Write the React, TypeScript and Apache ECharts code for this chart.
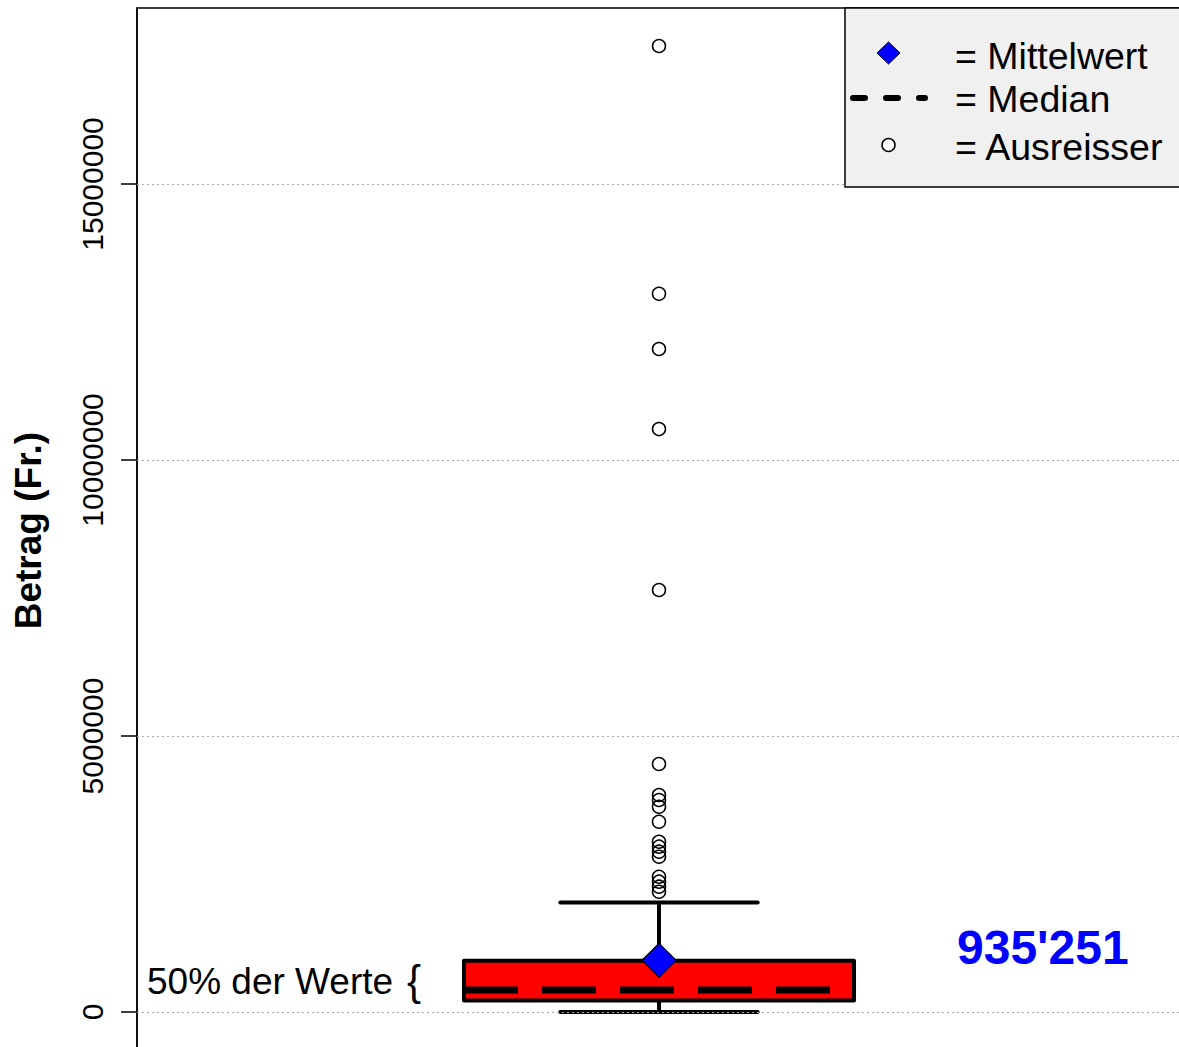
import React, { useEffect, useRef } from "react";
import * as echarts from "echarts";

// ---- data ----
const yTicks = [0, 5000000, 10000000, 15000000];
// [lower whisker, Q1, median, Q3, upper whisker]
const boxStats = [0, 208000, 400000, 930000, 1985000];
const meanValue = 935251;
const outliers = [
  17500000, 13010000, 12010000, 10560000, 7645000, 4493000, 3931000, 3841000,
  3719000, 3447000, 3085000, 2995000, 2904000, 2813000, 2451000, 2361000,
  2270000, 2179000,
];
const legendLabels = ["= Mittelwert", "= Median", "= Ausreisser"];
const meanLabel = "935'251";
const halfLabel = "50% der Werte";
const yTitle = "Betrag (Fr.)";

const FONT = "Liberation Sans, Arial, sans-serif";

export default function App() {
  const ref = useRef<HTMLDivElement>(null);

  useEffect(() => {
    if (!ref.current) return;
    const chart = echarts.init(ref.current, undefined, { renderer: "svg" });

    const boxHalf = 0.1868;
    const capHalf = 0.0945;

    const option: any = {
      animation: false,
      backgroundColor: "#ffffff",
      grid: {
        left: 137,
        top: 8,
        width: 1044,
        height: 1059.2,
        outerBoundsMode: "none",
        containLabel: false,
        show: true,
        borderColor: "#000",
        borderWidth: 1.5,
        backgroundColor: "transparent",
      },
      xAxis: {
        type: "value",
        min: 0.5,
        max: 1.5,
        show: false,
      },
      yAxis: {
        type: "value",
        min: -1000000,
        max: 18188000,
        name: yTitle,
        nameLocation: "middle",
        nameGap: 90,
        nameTextStyle: {
          fontFamily: FONT,
          fontSize: 37,
          fontWeight: "bold",
          color: "#000",
          padding: [0, 0, 0, 14],
        },
        axisLine: { show: true, lineStyle: { color: "#000", width: 1.5 } },
        axisTick: {
          show: true,
          length: 16,
          customValues: yTicks,
          lineStyle: { color: "#000", width: 1.5 },
        },
        axisLabel: {
          show: true,
          rotate: 90,
          margin: 30,
          customValues: yTicks,
          fontFamily: FONT,
          fontSize: 30,
          color: "#000",
          formatter: (v: number) => String(v),
        },
        splitLine: { show: false },
      },
      series: [
        {
          type: "custom",
          z: 2,
          data: [[1, ...boxStats]],
          renderItem: (params: any, api: any) => {
            const x = api.value(0);
            const lo = api.value(1);
            const q1 = api.value(2);
            const med = api.value(3);
            const q3 = api.value(4);
            const hi = api.value(5);
            const pLoC = api.coord([x, lo]);
            const pQ1C = api.coord([x, q1]);
            const pQ3C = api.coord([x, q3]);
            const pHiC = api.coord([x, hi]);
            const boxL = api.coord([x - boxHalf, q3]);
            const boxR = api.coord([x + boxHalf, q1]);
            const medL = api.coord([x - boxHalf, med]);
            const medR = api.coord([x + boxHalf, med]);
            const capL = api.coord([x - capHalf, hi])[0];
            const capR = api.coord([x + capHalf, hi])[0];
            const stroke = { stroke: "#000", lineWidth: 4 };
            return {
              type: "group",
              children: [
                {
                  type: "line",
                  shape: { x1: pQ3C[0], y1: pQ3C[1], x2: pHiC[0], y2: pHiC[1] },
                  style: { ...stroke },
                },
                {
                  type: "line",
                  shape: { x1: pQ1C[0], y1: pQ1C[1], x2: pLoC[0], y2: pLoC[1] },
                  style: { ...stroke },
                },
                {
                  type: "line",
                  shape: { x1: capL, y1: pHiC[1], x2: capR, y2: pHiC[1] },
                  style: { ...stroke, lineCap: "round" },
                },
                {
                  type: "line",
                  shape: { x1: capL, y1: pLoC[1], x2: capR, y2: pLoC[1] },
                  style: { ...stroke, lineCap: "round" },
                },
                {
                  type: "rect",
                  shape: {
                    x: boxL[0],
                    y: boxL[1],
                    width: boxR[0] - boxL[0],
                    height: boxR[1] - boxL[1],
                  },
                  style: { fill: "#ff0000", stroke: "#000", lineWidth: 4, lineJoin: "round" },
                },
                {
                  type: "line",
                  shape: { x1: medL[0], y1: medL[1], x2: medR[0], y2: medR[1] },
                  style: { stroke: "#000", lineWidth: 7, lineDash: [54, 24], lineCap: "butt" },
                },
              ],
            };
          },
        },
        {
          type: "line",
          z: 5,
          data: [],
          markLine: {
            silent: true,
            symbol: ["none", "none"],
            label: { show: false },
            lineStyle: { color: "#aaaaaa", type: [2, 3], width: 1 },
            data: yTicks.map((v) => ({ yAxis: v })),
          },
        },
        {
          type: "scatter",
          z: 6,
          symbol: "circle",
          symbolSize: 13,
          itemStyle: { color: "transparent", borderColor: "#000", borderWidth: 1.5, opacity: 1 },
          data: outliers.map((v) => [1, v]),
        },
        {
          type: "scatter",
          z: 7,
          symbol: "diamond",
          symbolSize: [34, 34],
          itemStyle: { color: "#0000ff", borderColor: "#000", borderWidth: 1.2, opacity: 1 },
          data: [[1, meanValue]],
        },
      ],
      graphic: [
        {
          type: "rect",
          z: 100,
          shape: { x: 845, y: 8, width: 340, height: 179 },
          style: { fill: "#f0f0f0", stroke: "#000", lineWidth: 1.5 },
        },
        {
          type: "polygon",
          z: 101,
          shape: { points: [[888.5, 42], [900, 53], [888.5, 64], [877, 53]] },
          style: { fill: "#0000ff", stroke: "#000", lineWidth: 1 },
        },
        {
          type: "line",
          z: 101,
          shape: { x1: 853, y1: 98, x2: 925, y2: 98 },
          style: { stroke: "#000", lineWidth: 6, lineDash: [12, 21], lineCap: "round" },
        },
        {
          type: "circle",
          z: 101,
          shape: { cx: 888.5, cy: 145, r: 6.5 },
          style: { fill: "#ffffff", stroke: "#000", lineWidth: 1.5 },
        },
        ...legendLabels.map((t, i) => ({
          type: "text",
          z: 101,
          x: 955,
          y: [55.5, 99, 147][i],
          style: {
            text: t,
            fontFamily: FONT,
            fontSize: 37.5,
            fill: "#000",
            align: "left",
            verticalAlign: "middle",
          },
        })),
        {
          type: "text",
          z: 101,
          x: 147,
          y: 981.5,
          style: {
            text: halfLabel,
            fontFamily: FONT,
            fontSize: 37,
            fill: "#000",
            align: "left",
            verticalAlign: "middle",
          },
        },
        {
          type: "text",
          z: 101,
          x: 407,
          y: 980,
          style: {
            text: "{",
            fontFamily: FONT,
            fontSize: 42,
            fill: "#000",
            align: "left",
            verticalAlign: "middle",
          },
        },
        {
          type: "text",
          z: 101,
          x: 957,
          y: 947.5,
          style: {
            text: meanLabel,
            fontFamily: FONT,
            fontSize: 48,
            fontWeight: "bold",
            fill: "#0000ff",
            align: "left",
            verticalAlign: "middle",
          },
        },
      ],
    };

    chart.setOption(option);
    return () => chart.dispose();
  }, []);

  return (
    <div
      ref={ref}
      style={{ position: "absolute", left: 0, top: 0, width: 1179, height: 1047, background: "#fff" }}
    />
  );
}
